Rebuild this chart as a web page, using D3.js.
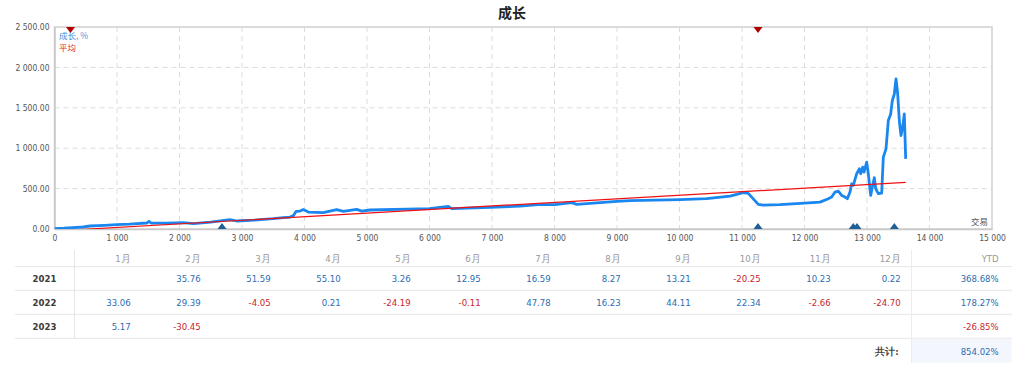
<!DOCTYPE html>
<html><head><meta charset="utf-8">
<script src="https://cdn.jsdelivr.net/npm/d3@7"></script>
<style>
body{margin:0;background:#fff;}
svg{display:block;font-family:"DejaVu Sans Condensed","DejaVu Sans",sans-serif;}
</style></head>
<body><svg id="c" width="1024" height="373"></svg>
<script>
const title = "成长";
const trades = [0,150,300,461,568,800,995,1200,1475,1512,1544,1800,2061,2221,2500,2808,2915,3200,3500,3661,3768,3821,3864,3928,3981,4061,4301,4515,4621,4835,4915,5048,5635,6000,6301,6355,6968,7448,7741,8008,8275,8355,8995,9208,10008,10435,10808,11021,11101,11155,11261,11341,11608,12000,12248,12381,12435,12488,12541,12595,12648,12685,12728,12755,12781,12835,12877,12899,12931,12952,12995,13021,13059,13085,13117,13139,13181,13235,13261,13304,13341,13379,13405,13437,13464,13491,13517,13544,13571,13597,13619];
const growth = [5,10,18,25,37,45,54,60,74,95,74,72,79,67,85,116,99,110,128,141,148,165,218,222,240,210,202,240,218,243,222,235,247,252,280,252,268,284,301,301,326,305,342,351,363,375,407,449,441,395,305,296,301,321,333,375,395,457,469,416,395,375,457,560,540,684,745,684,765,704,827,684,416,519,635,499,437,445,889,992,1342,1424,1589,1671,1857,1671,1342,1157,1259,1424,868];
const avgTrades = [0,13620];
const avgValues = [-25,578];
const topMarks = [256,11256];
const bottomMarks = [2680,11256,12780,12840,13437];
const yTicks = [0,500,1000,1500,2000,2500];
const xTicks = [0,1000,2000,3000,4000,5000,6000,7000,8000,9000,10000,11000,12000,13000,14000,15000];
const legendLabels = ["成长, %","平均"];
const xAxisLabel = "交易";

const years = ["2021","2022","2023"];
const months = ["1月","2月","3月","4月","5月","6月","7月","8月","9月","10月","11月","12月"];
const v2021 = [null,35.76,51.59,55.10,3.26,12.95,16.59,8.27,13.21,-20.25,10.23,0.22];
const v2022 = [33.06,29.39,-4.05,0.21,-24.19,-0.11,47.78,16.23,44.11,22.34,-2.66,-24.70];
const v2023 = [5.17,-30.45,null,null,null,null,null,null,null,null,null,null];
const ytd = [368.68,178.27,-26.85];
const totalLabel = "共计:";
const total = 854.02;

const svg = d3.select("#c");
const L=54.5,R=992,T=27,B=229;
const x = d3.scaleLinear().domain([0,15000]).range([L,R]);
const y = d3.scaleLinear().domain([0,2500]).range([B,T]);
const sp = s => s.replace(/,/g," ");
const fy = v => sp(d3.format(",.2f")(v));
const fx = v => sp(d3.format(",")(v));
const f2 = v => d3.format(".2f")(v).replace("\u2212","-");

svg.append("text").attr("x",512).attr("y",18).attr("text-anchor","middle")
  .attr("font-size",14).attr("font-weight","bold").attr("fill","#222")
  .attr("font-family","'Noto Sans CJK SC',sans-serif").text(title);

// grid
const g = svg.append("g");
g.selectAll("line.gx").data(xTicks.slice(1,-1)).join("line")
  .attr("x1",d=>x(d)).attr("x2",d=>x(d)).attr("y1",T).attr("y2",B)
  .attr("stroke","#dcdcdc").attr("stroke-dasharray","5,4");
g.selectAll("line.gy").data(yTicks.slice(1,-1)).join("line")
  .attr("x1",L).attr("x2",R).attr("y1",d=>y(d)).attr("y2",d=>y(d))
  .attr("stroke","#dcdcdc").attr("stroke-dasharray","5,4");

// frame
svg.append("rect").attr("x",L).attr("y",T).attr("width",R-L).attr("height",B-T)
  .attr("fill","none").attr("stroke","#d0d0d0").attr("stroke-width",1.5);

// axes
const ya = svg.append("g").attr("transform",`translate(${L},0)`)
  .call(d3.axisLeft(y).tickValues(yTicks).tickFormat(fy).tickSize(0).tickPadding(5));
const xa = svg.append("g").attr("transform",`translate(0,${B})`)
  .call(d3.axisBottom(x).tickValues(xTicks).tickFormat(fx).tickSize(0).tickPadding(6));
[ya,xa].forEach(a=>{a.select(".domain").attr("stroke","#c8c8c8").attr("stroke-width",1.5);
  a.selectAll("text").attr("fill","#555").attr("font-size",8.5).attr("font-family","'DejaVu Sans Condensed','DejaVu Sans',sans-serif");});

// clip
svg.append("clipPath").attr("id","pc").append("rect").attr("x",L).attr("y",T).attr("width",R-L).attr("height",B-T);

const line = d3.line().x(d=>x(d[0])).y(d=>y(d[1]));
svg.append("path").attr("clip-path","url(#pc)")
  .datum(trades.map((t,i)=>[t,growth[i]]))
  .attr("d",line).attr("fill","none").attr("stroke","#1a87f0").attr("stroke-width",2.8)
  .attr("stroke-linejoin","round");
svg.append("path").attr("clip-path","url(#pc)")
  .datum(avgTrades.map((t,i)=>[t,avgValues[i]]))
  .attr("d",line).attr("fill","none").attr("stroke","#f01010").attr("stroke-width",1.2);

// markers
svg.selectAll("path.tm").data(topMarks).join("path")
  .attr("d",d=>`M${x(d)-4.5},${T}L${x(d)+4.5},${T}L${x(d)},${T+6}Z`).attr("fill","#b30000");
svg.selectAll("path.bm").data(bottomMarks).join("path")
  .attr("d",d=>`M${x(d)-4.5},${B}L${x(d)+4.5},${B}L${x(d)},${B-6}Z`).attr("fill","#1d5f96");

// legend
svg.append("text").attr("x",59).attr("y",39).attr("font-size",8.5).attr("fill","#4a8ad8")
  .attr("font-family","'Noto Sans CJK SC',sans-serif").text(legendLabels[0]);
svg.append("text").attr("x",59).attr("y",51).attr("font-size",8.5).attr("fill","#e03030")
  .attr("font-family","'Noto Sans CJK SC',sans-serif").text(legendLabels[1]);
svg.append("text").attr("x",988).attr("y",225).attr("text-anchor","end").attr("font-size",8.5).attr("fill","#555")
  .attr("font-family","'Noto Sans CJK SC',sans-serif").text(xAxisLabel);

// table
const tbl = svg.append("g").attr("font-size",9.5);
const colR = i => 130.7 + 70*i;
const rowLines = [266.7,290.3,314.3,338.3];
tbl.selectAll("line.h").data(rowLines).join("line")
  .attr("x1",15).attr("x2",1012).attr("y1",d=>d).attr("y2",d=>d).attr("stroke","#e6e6e6");
tbl.append("line").attr("x1",74.5).attr("x2",74.5).attr("y1",250).attr("y2",338.3).attr("stroke","#e6e6e6");
tbl.append("rect").attr("x",911.5).attr("y",338.8).attr("width",100).attr("height",24).attr("fill","#f3f6fc");
tbl.append("line").attr("x1",911.5).attr("x2",911.5).attr("y1",250).attr("y2",363).attr("stroke","#ececec");
tbl.selectAll("text.m").data(months).join("text")
  .attr("x",(d,i)=>colR(i)).attr("y",262).attr("text-anchor","end").attr("fill","#999").text(d=>d);
tbl.append("text").attr("x",998.7).attr("y",262).attr("text-anchor","end").attr("fill","#999").text("YTD");
const rowsY = [282,305.8,329.8];
const vals = [v2021,v2022,v2023];
const pos="#2a6db0", neg="#c8262b";
years.forEach((yr,r)=>{
  tbl.append("text").attr("x",44.5).attr("y",rowsY[r]).attr("text-anchor","middle").attr("fill","#3a3a3a").attr("font-weight","bold").text(yr);
  tbl.selectAll(null).data(vals[r].map((v,i)=>({v,i})).filter(d=>d.v!==null)).join("text")
    .attr("x",d=>colR(d.i)).attr("y",rowsY[r]).attr("text-anchor","end")
    .attr("fill",d=>d.v<0?neg:pos).text(d=>f2(d.v));
  tbl.append("text").attr("x",998.7).attr("y",rowsY[r]).attr("text-anchor","end")
    .attr("fill",ytd[r]<0?neg:pos).text(f2(ytd[r])+"%");
});
tbl.append("text").attr("x",898.7).attr("y",354.5).attr("text-anchor","end").attr("fill","#444").attr("font-weight","bold").text(totalLabel);
tbl.append("text").attr("x",998.7).attr("y",354.5).attr("text-anchor","end").attr("fill",pos).text(f2(total)+"%");
</script></body></html>
